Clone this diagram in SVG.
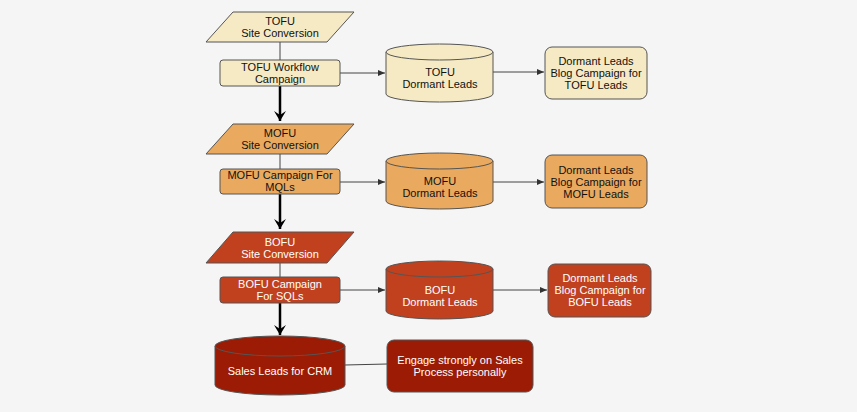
<svg xmlns="http://www.w3.org/2000/svg" width="857" height="412" viewBox="0 0 857 412">
<style>
text{font-family:"Liberation Sans",Arial,sans-serif;font-size:11px;text-anchor:middle}
.t{fill:#f6eac4;stroke:#555;stroke-width:1}
.m{fill:#e9a95e;stroke:#555;stroke-width:1}
.b{fill:#c1411f;stroke:#555;stroke-width:1}
.s{fill:#9b1b04;stroke:#555;stroke-width:1}
.w{fill:#fff}
.k{fill:#111}
.c{stroke:#444;stroke-width:1;fill:none}
.th{stroke:#000;stroke-width:2.5;fill:none}
</style>
<defs>
<marker id="a" markerWidth="8" markerHeight="8" refX="7" refY="4" orient="auto" markerUnits="userSpaceOnUse"><path d="M0,1 L7,4 L0,7 Z" fill="#333"/></marker>
<marker id="A" markerWidth="12" markerHeight="12" refX="10" refY="6" orient="auto" markerUnits="userSpaceOnUse"><path d="M0,0 L10,6 L0,12 L4,6 Z" fill="#000"/></marker>
</defs>
<rect width="857" height="412" fill="#f5f5f5"/>
<g id="connectors">
<line class="c" x1="280" y1="42" x2="280" y2="60"/>
<line class="c" x1="340" y1="73" x2="385" y2="73" marker-end="url(#a)"/>
<line class="c" x1="493" y1="72" x2="544" y2="72" marker-end="url(#a)"/>
<line class="th" x1="280" y1="86" x2="280" y2="121" marker-end="url(#A)"/>
<line class="c" x1="280" y1="154" x2="280" y2="169"/>
<line class="c" x1="340" y1="182" x2="385" y2="182" marker-end="url(#a)"/>
<line class="c" x1="493" y1="182" x2="544" y2="182" marker-end="url(#a)"/>
<line class="th" x1="280" y1="194" x2="280" y2="229" marker-end="url(#A)"/>
<line class="c" x1="280" y1="263" x2="280" y2="277"/>
<line class="c" x1="340" y1="290" x2="385" y2="290" marker-end="url(#a)"/>
<line class="c" x1="493" y1="290" x2="547" y2="290" marker-end="url(#a)"/>
<line class="th" x1="280" y1="303" x2="280" y2="335" marker-end="url(#A)"/>
<line class="c" x1="345" y1="365" x2="387" y2="364"/>
</g>
<g id="tofu-site"><polygon class="t" points="233,12 354,12 327,42 206,42"/><text class="k" x="280" y="25">TOFU</text><text class="k" x="280" y="37">Site Conversion</text></g>
<g id="tofu-wf"><rect class="t" x="220" y="60" width="120" height="26" rx="3"/><text class="k" x="280" y="71">TOFU Workflow</text><text class="k" x="280" y="83">Campaign</text></g>
<g id="tofu-dormant"><path class="t" d="M386,52 A53.5,8 0 0 1 493,52 V94 A53.5,8 0 0 1 386,94 Z"/><path class="t" d="M386,52 A53.5,8 0 0 0 493,52"/><text class="k" x="440" y="76">TOFU</text><text class="k" x="440" y="88">Dormant Leads</text></g>
<g id="tofu-blog"><rect class="t" x="545" y="47" width="102" height="52" rx="7"/><text class="k" x="596" y="65">Dormant Leads</text><text class="k" x="596" y="77">Blog Campaign for</text><text class="k" x="596" y="89">TOFU Leads</text></g>
<g id="mofu-site"><polygon class="m" points="233,124 354,124 327,154 206,154"/><text class="k" x="280" y="137">MOFU</text><text class="k" x="280" y="149">Site Conversion</text></g>
<g id="mofu-camp"><rect class="m" x="220" y="169" width="120" height="25" rx="3"/><text class="k" x="280" y="179">MOFU Campaign For</text><text class="k" x="280" y="191">MQLs</text></g>
<g id="mofu-dormant"><path class="m" d="M386,161 A53.5,8 0 0 1 493,161 V201 A53.5,8 0 0 1 386,201 Z"/><path class="m" d="M386,161 A53.5,8 0 0 0 493,161"/><text class="k" x="440" y="185">MOFU</text><text class="k" x="440" y="197">Dormant Leads</text></g>
<g id="mofu-blog"><rect class="m" x="545" y="155" width="102" height="53" rx="7"/><text class="k" x="596" y="174">Dormant Leads</text><text class="k" x="596" y="186">Blog Campaign for</text><text class="k" x="596" y="198">MOFU Leads</text></g>
<g id="bofu-site"><polygon class="b" points="233,232 354,232 327,263 206,263"/><text class="w" x="280" y="246">BOFU</text><text class="w" x="280" y="258">Site Conversion</text></g>
<g id="bofu-camp"><rect class="b" x="220" y="277" width="120" height="26" rx="3"/><text class="w" x="280" y="288">BOFU Campaign</text><text class="w" x="280" y="300">For SQLs</text></g>
<g id="bofu-dormant"><path class="b" d="M386,269 A53.5,8 0 0 1 493,269 V311 A53.5,8 0 0 1 386,311 Z"/><path class="b" d="M386,269 A53.5,8 0 0 0 493,269"/><text class="w" x="440" y="294">BOFU</text><text class="w" x="440" y="306">Dormant Leads</text></g>
<g id="bofu-blog"><rect class="b" x="548" y="264" width="103" height="53" rx="7"/><text class="w" x="600" y="282">Dormant Leads</text><text class="w" x="600" y="294">Blog Campaign for</text><text class="w" x="600" y="306">BOFU Leads</text></g>
<g id="sales"><path class="s" d="M215,346 A65,10 0 0 1 345,346 V385 A65,10 0 0 1 215,385 Z"/><path class="s" d="M215,346 A65,10 0 0 0 345,346"/><text class="w" x="280" y="375">Sales Leads for CRM</text></g>
<g id="engage"><rect class="s" x="387" y="340" width="146" height="52" rx="7"/><text class="w" x="460" y="364">Engage strongly on Sales</text><text class="w" x="460" y="376">Process personally</text></g>
</svg>
